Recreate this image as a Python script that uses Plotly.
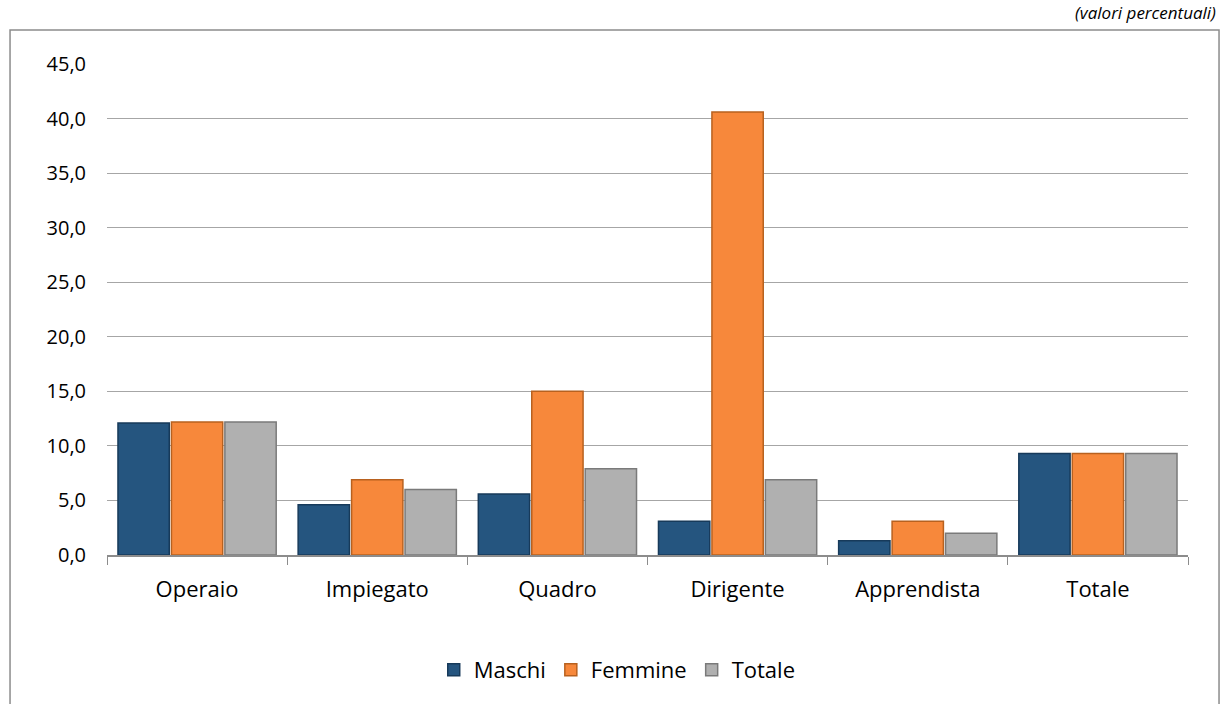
import plotly.graph_objects as go

categories = ['Operaio', 'Impiegato', 'Quadro', 'Dirigente', 'Apprendista', 'Totale']
maschi = [12.1, 4.6, 5.6, 3.1, 1.3, 9.3]
femmine = [12.2, 6.9, 15.0, 40.6, 3.1, 9.3]
totale = [12.2, 6.0, 7.9, 6.9, 2.0, 9.3]
y_ticks = [0, 5, 10, 15, 20, 25, 30, 35, 40, 45]

series = [
    ('Maschi', maschi, '#25557F', '#173A5A'),
    ('Femmine', femmine, '#F7883B', '#B8611F'),
    ('Totale', totale, '#B0B0B0', '#7A7A7A'),
]

fig = go.Figure()
for name, vals, color, edge in series:
    fig.add_trace(go.Bar(
        x=categories,
        y=vals,
        name=name,
        marker=dict(color=color, line=dict(color=edge, width=1.5)),
        hovertemplate='%{x}<br>' + name + ': %{y:.1f}<extra></extra>'
    ))

fig.update_layout(
    width=1221,
    height=704,
    margin=dict(l=107, r=33, t=64, b=149),
    plot_bgcolor='white',
    paper_bgcolor='white',
    font=dict(family='Open Sans, Noto Sans, sans-serif', size=20, color='#000000'),
    separators=',.',
    barmode='group',
    bargap=0.11,
    bargroupgap=0.04,
    xaxis=dict(
        showline=True,
        linecolor='#8C8C8C',
        linewidth=1.5,
        ticks='outside',
        tickson='boundaries',
        ticklen=8,
        tickcolor='#8C8C8C',
        tickfont=dict(size=22),
        ticklabelstandoff=14,
        showgrid=False,
    ),
    yaxis=dict(
        range=[0, 45],
        tickvals=y_ticks,
        tickformat='.1f',
        showgrid=True,
        gridcolor='#A6A6A6',
        gridwidth=1,
        showline=False,
        zeroline=False,
        ticks='',
        ticklabelstandoff=20,
        tickfont=dict(size=20),
    ),
    legend=dict(
        orientation='h',
        x=0.472,
        xanchor='center',
        y=-0.234,
        yanchor='middle',
        font=dict(size=22),
        itemwidth=30,
        traceorder='normal',
    ),
    showlegend=True,
)

# outer frame of the chart
fig.add_shape(
    type='rect', xref='paper', yref='paper',
    x0=-0.0897, x1=1.0287, y0=-0.33, y1=1.0692,
    line=dict(color='#8C8C8C', width=1.5),
    fillcolor='rgba(0,0,0,0)', layer='below'
)

fig.add_annotation(
    text='<i>(valori percentuali)</i>',
    xref='paper', yref='paper',
    x=1.0268, y=1.1303,
    xanchor='right', yanchor='top',
    showarrow=False,
    borderpad=0,
    font=dict(size=17, color='#000000')
)

fig.write_html("out.html", config={'displayModeBar': False},
               post_script="document.body.style.margin='0';")
